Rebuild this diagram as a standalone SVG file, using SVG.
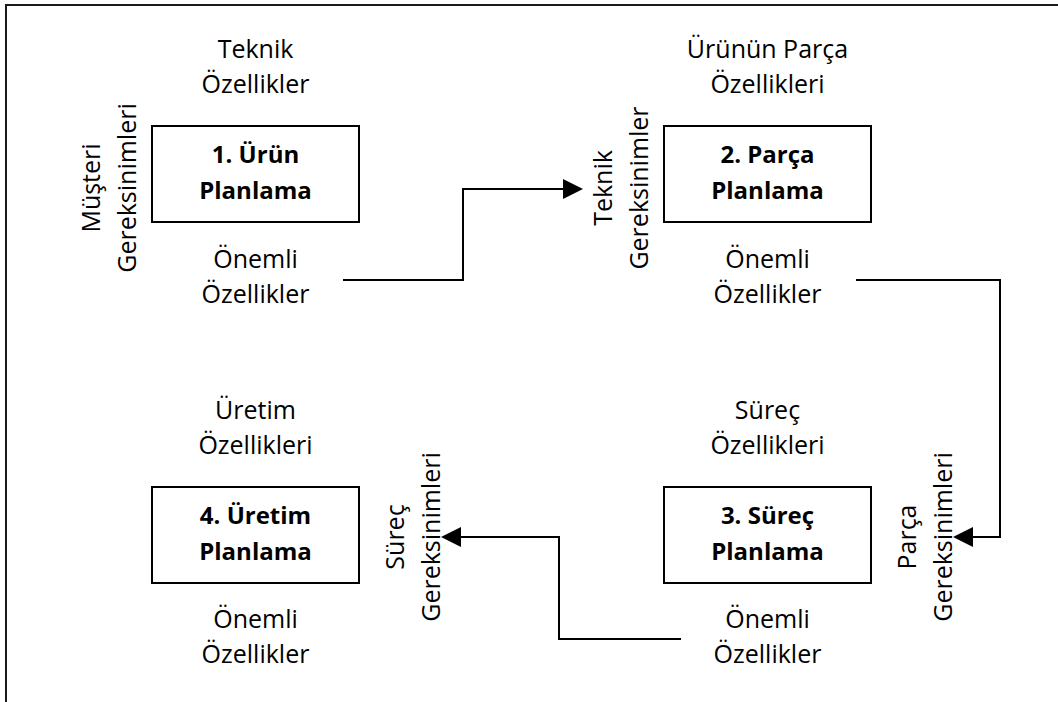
<svg xmlns="http://www.w3.org/2000/svg" width="1058" height="702" viewBox="0 0 1058 702">
<style>
.t{font-family:"Open Sans","Liberation Sans",sans-serif;font-size:25px;fill:#000;text-anchor:middle}
.b{font-family:"Open Sans","Liberation Sans",sans-serif;font-size:24px;font-weight:bold;fill:#000;text-anchor:middle}
.box{fill:#fff;stroke:#000;stroke-width:2}
.c{fill:none;stroke:#000;stroke-width:2}
</style>
<defs>
<marker id="ah" markerUnits="userSpaceOnUse" markerWidth="20" markerHeight="20" refX="0" refY="10" orient="auto">
<path d="M0,0 L20,10 L0,20 z" fill="#000"/>
</marker>
</defs>
<rect width="1058" height="702" fill="#fff"/>
<path d="M6,702 V5 H1058" fill="none" stroke="#1a1a1a" stroke-width="2"/>

<g id="node1">
<rect class="box" x="152" y="126" width="207" height="96"/>
<text class="b" x="255.5" y="163">1. Ürün</text>
<text class="b" x="255.5" y="199">Planlama</text>
<text class="t" x="255.5" y="58">Teknik</text>
<text class="t" x="255.5" y="93">Özellikler</text>
<text class="t" x="255.5" y="268">Önemli</text>
<text class="t" x="255.5" y="303">Özellikler</text>
<text class="t" transform="translate(100,188) rotate(-90)">Müşteri</text>
<text class="t" transform="translate(136,188) rotate(-90)">Gereksinimleri</text>
</g>

<g id="node2">
<rect class="box" x="664" y="126" width="207" height="96"/>
<text class="b" x="767.5" y="163">2. Parça</text>
<text class="b" x="767.5" y="199">Planlama</text>
<text class="t" x="767.5" y="58">Ürünün Parça</text>
<text class="t" x="767.5" y="93">Özellikleri</text>
<text class="t" x="767.5" y="268">Önemli</text>
<text class="t" x="767.5" y="303">Özellikler</text>
<text class="t" transform="translate(612,188) rotate(-90)">Teknik</text>
<text class="t" transform="translate(648,188) rotate(-90)">Gereksinimler</text>
</g>

<g id="node3">
<rect class="box" x="664" y="487" width="207" height="96"/>
<text class="b" x="767.5" y="524">3. Süreç</text>
<text class="b" x="767.5" y="560">Planlama</text>
<text class="t" x="767.5" y="419">Süreç</text>
<text class="t" x="767.5" y="454">Özellikleri</text>
<text class="t" x="767.5" y="628">Önemli</text>
<text class="t" x="767.5" y="663">Özellikler</text>
<text class="t" transform="translate(916,537) rotate(-90)">Parça</text>
<text class="t" transform="translate(952,537) rotate(-90)">Gereksinimleri</text>
</g>

<g id="node4">
<rect class="box" x="152" y="487" width="207" height="96"/>
<text class="b" x="255.5" y="524">4. Üretim</text>
<text class="b" x="255.5" y="560">Planlama</text>
<text class="t" x="255.5" y="419">Üretim</text>
<text class="t" x="255.5" y="454">Özellikleri</text>
<text class="t" x="255.5" y="628">Önemli</text>
<text class="t" x="255.5" y="663">Özellikler</text>
<text class="t" transform="translate(404,537) rotate(-90)">Süreç</text>
<text class="t" transform="translate(440,537) rotate(-90)">Gereksinimleri</text>
</g>

<g id="connectors">
<path class="c" d="M343,280 H463 V189 H563" marker-end="url(#ah)"/>
<path class="c" d="M856,280 H1000 V537 H973" marker-end="url(#ah)"/>
<path class="c" d="M681,639 H559 V537 H461" marker-end="url(#ah)"/>
</g>
</svg>
